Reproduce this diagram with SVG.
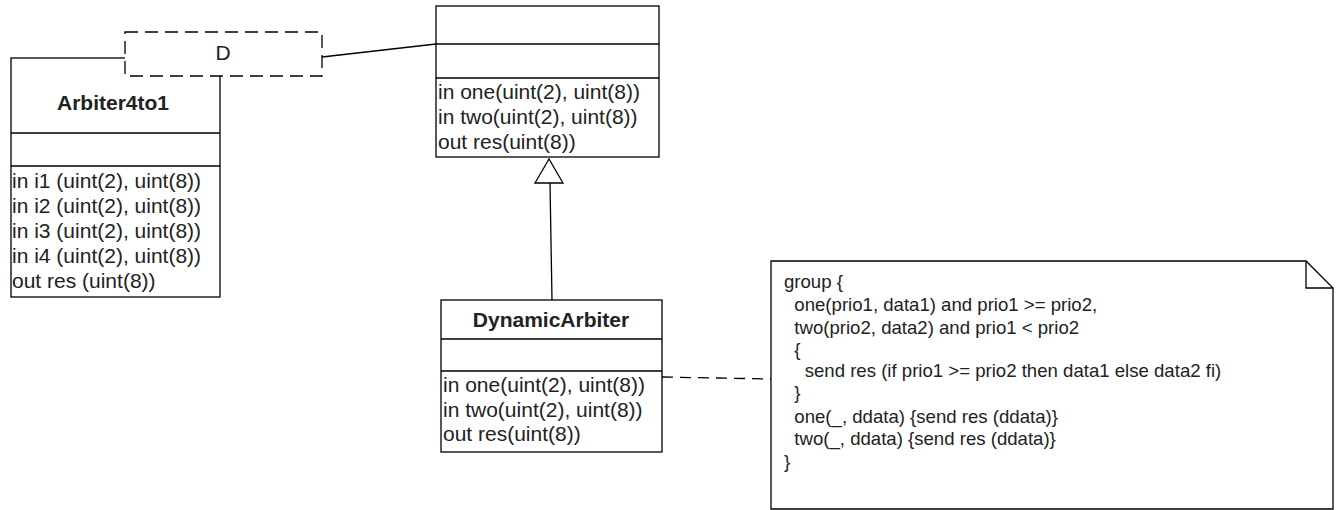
<svg xmlns="http://www.w3.org/2000/svg" width="1343" height="510" viewBox="0 0 1343 510">
<style>
.box{fill:#fff;stroke:#000;stroke-width:1.3}
.sep{stroke:#000;stroke-width:1.3}
.t{font-family:"Liberation Sans",Arial,sans-serif;font-size:21px;fill:#222}
.b{font-family:"Liberation Sans",Arial,sans-serif;font-size:21px;font-weight:bold;fill:#222}
.n{font-family:"Liberation Sans",Arial,sans-serif;font-size:18.6px;fill:#222}
.c{fill:none;stroke:#000;stroke-width:1.3}
.d{fill:none;stroke:#000;stroke-width:1.3;stroke-dasharray:11,7}
</style>
<g id="connectors">
<line class="c" x1="322" y1="57" x2="436" y2="44"/>
<line class="c" x1="550" y1="183" x2="552" y2="300"/>
<polygon points="549,159 535,183 563,183" fill="#fff" stroke="#000" stroke-width="1.3"/>
<line class="d" x1="662" y1="377" x2="771" y2="379"/>
</g>
<g id="Arbiter4to1">
<rect class="box" x="11" y="58" width="209" height="239"/>
<line class="sep" x1="11" y1="133" x2="220" y2="133"/>
<line class="sep" x1="11" y1="166" x2="220" y2="166"/>
<text class="b" x="113" y="110" text-anchor="middle">Arbiter4to1</text>
<text class="t" x="12" y="188">in i1 (uint(2), uint(8))</text>
<text class="t" x="12" y="213">in i2 (uint(2), uint(8))</text>
<text class="t" x="12" y="238">in i3 (uint(2), uint(8))</text>
<text class="t" x="12" y="263">in i4 (uint(2), uint(8))</text>
<text class="t" x="12" y="288">out res (uint(8))</text>
</g>
<g id="template-D">
<rect x="125" y="32" width="197" height="44" fill="#fff" stroke="#000" stroke-width="1.3" stroke-dasharray="13,7"/>
<text class="t" x="223" y="60" text-anchor="middle">D</text>
</g>
<g id="Base">
<rect class="box" x="436" y="6" width="223" height="151"/>
<line class="sep" x1="436" y1="44" x2="659" y2="44"/>
<line class="sep" x1="436" y1="78" x2="659" y2="78"/>
<text class="t" x="438" y="99">in one(uint(2), uint(8))</text>
<text class="t" x="438" y="124">in two(uint(2), uint(8))</text>
<text class="t" x="438" y="149">out res(uint(8))</text>
</g>
<g id="DynamicArbiter">
<rect class="box" x="441" y="300" width="221" height="152"/>
<line class="sep" x1="441" y1="339" x2="662" y2="339"/>
<line class="sep" x1="441" y1="371" x2="662" y2="371"/>
<text class="b" x="551" y="327" text-anchor="middle">DynamicArbiter</text>
<text class="t" x="443" y="392">in one(uint(2), uint(8))</text>
<text class="t" x="443" y="417">in two(uint(2), uint(8))</text>
<text class="t" x="443" y="441">out res(uint(8))</text>
</g>
<g id="note">
<path d="M771,261 H1306 L1333,288 V509 H771 Z" fill="#fff" stroke="#000" stroke-width="1.3"/>
<path d="M1306,261 V288 H1333" fill="none" stroke="#000" stroke-width="1.3"/>
<text class="n" xml:space="preserve">
<tspan x="784" y="288">group {</tspan>
<tspan x="784" y="311">  one(prio1, data1) and prio1 &gt;= prio2,</tspan>
<tspan x="784" y="334">  two(prio2, data2) and prio1 &lt; prio2</tspan>
<tspan x="784" y="356">  {</tspan>
<tspan x="784" y="377">    send res (if prio1 &gt;= prio2 then data1 else data2 fi)</tspan>
<tspan x="784" y="399">  }</tspan>
<tspan x="784" y="423">  one(_, ddata) {send res (ddata)}</tspan>
<tspan x="784" y="445">  two(_, ddata) {send res (ddata)}</tspan>
<tspan x="784" y="468">}</tspan>
</text>
</g>
</svg>
